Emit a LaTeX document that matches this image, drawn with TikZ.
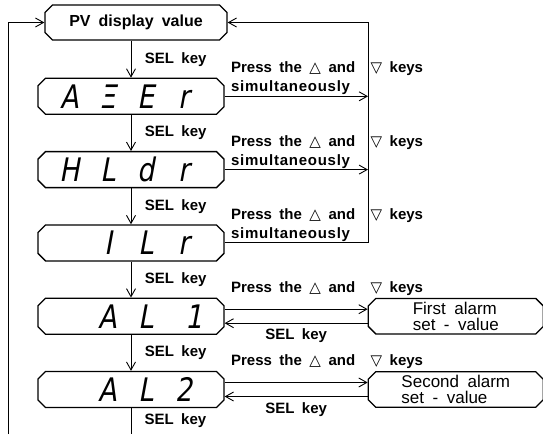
\documentclass[tikz,border=0pt]{standalone}
\usepackage{graphicx}
\usepackage{fontspec}
\setmainfont{Liberation Sans}[WordSpace=1.8]
\newfontfamily\segfont{DejaVu Sans}[FakeSlant=0.22]
\newfontfamily\symfont{DejaVu Sans}
\usetikzlibrary{arrows.meta, positioning, shapes.misc}

\newcommand{\segcells}[4]{\scalebox{1}[1.2]{\segfont\mdseries\fontsize{27}{30}\selectfont
  \makebox[38pt]{#1}\makebox[38pt]{#2}\makebox[38pt]{#3}\makebox[38pt]{#4}\kern8pt}}
\newcommand{\up}{{\symfont\bfseries △}}
\newcommand{\down}{{\symfont\bfseries ▽}}
\newcommand{\presskeys}{Press the \up{} and\hspace{8pt} \down{} keys}
\newcommand{\simul}{{\addfontfeature{LetterSpace=5}simultaneously}}

\begin{document}
\begin{tikzpicture}[
    x=1pt, y=-1pt,
    font=\fontsize{15}{19}\selectfont\bfseries,
    box/.style={chamfered rectangle, chamfered rectangle xsep=4pt, draw=black, line width=1.3pt, inner sep=0pt},
    display/.style={box, minimum width=186pt, minimum height=36pt},
    pvbox/.style={box, minimum width=182pt, minimum height=35pt, font=\fontsize{16}{19}\selectfont\bfseries},
    alarmbox/.style={box, minimum width=175pt, minimum height=35pt, align=flush left, font=\fontsize{17}{16}\selectfont},
    arrow/.style={-{Straight Barb[length=8pt, width=9pt]}, line width=0.9pt},
    sel/.style={right, xshift=10pt},
    press/.style={anchor=south west, align=flush left, inner sep=1pt, xshift=5pt},
    keysabove/.style={anchor=south west, inner sep=1pt, xshift=5pt, yshift=12pt}
]
\useasboundingbox (0,0) rectangle (543,434);

% Display sequence
\node[pvbox] (pv) at (136,22.5) {PV display value};
\node[display, below=37pt of pv, xshift=-5pt] (ater) {\segcells{A}{Ξ}{E}{r}};
\node[display, below=36pt of ater] (hldr) {\segcells{H}{L}{d}{r}};
\node[display, below=36pt of hldr] (ilr) {\segcells{}{I}{L}{r}};
\node[display, below=36pt of ilr] (alone) {\segcells{}{A}{L}{\hfill1}};
\node[display, below=36pt of alone] (altwo) {\segcells{}{A}{L}{2}};

% Alarm set-values
\node[alarmbox, right=143pt of alone] (firstal) {First alarm\\set - value};
\node[alarmbox, right=143pt of altwo] (secondal) {Second alarm\\set - value};

\coordinate (lowend) at (altwo.south |- 0,434);
\coordinate (loopend) at (8,434);
\coordinate (rtop) at (368,0 |- pv.east);

% SEL key steps
\draw[arrow] (pv.south -| ater) -- node[sel] {SEL key} (ater.north);
\draw[arrow] (ater.south) -- node[sel] {SEL key} (hldr.north);
\draw[arrow] (hldr.south) -- node[sel] {SEL key} (ilr.north);
\draw[arrow] (ilr.south) -- node[sel] {SEL key} (alone.north);
\draw[arrow] (alone.south) -- node[sel] {SEL key} (altwo.north);
\draw (altwo.south) -- node[sel] {SEL key} (lowend);
\draw[arrow] (loopend) |- (pv.west);

% Back to PV display value
\draw[arrow] (ater.east) -- node[pos=0, press] {\presskeys\\\simul} (ater.east -| rtop);
\draw[arrow] (hldr.east) -- node[pos=0, press] {\presskeys\\\simul} (hldr.east -| rtop);
\draw[arrow] (ilr.east) -| node[pos=0, press] {\presskeys\\\simul} (rtop) -- (pv.east);

% Alarm settings
\draw[arrow] ([yshift=7pt]alone.east) -- node[pos=0, keysabove] {\presskeys} ([yshift=7pt]firstal.west);
\draw[arrow] ([yshift=-7pt]firstal.west) -- node[below, yshift=-2pt] {SEL key} ([yshift=-7pt]alone.east);
\draw[arrow] ([yshift=7pt]altwo.east) -- node[pos=0, keysabove] {\presskeys} ([yshift=7pt]secondal.west);
\draw[arrow] ([yshift=-7pt]secondal.west) -- node[below, yshift=-2pt] {SEL key} ([yshift=-7pt]altwo.east);

\end{tikzpicture}
\end{document}
